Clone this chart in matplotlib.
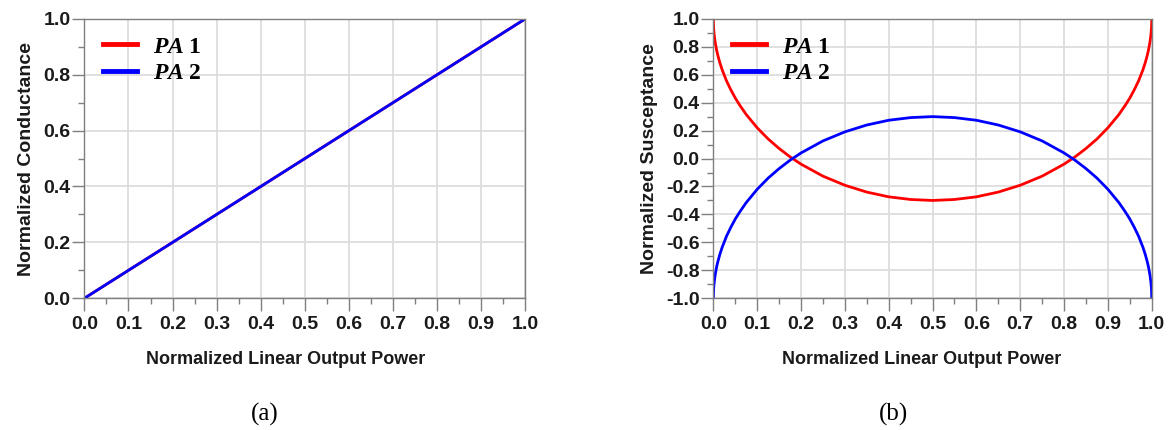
import numpy as np
import matplotlib
matplotlib.use("Agg")
import matplotlib.pyplot as plt
from matplotlib.ticker import MultipleLocator, FormatStrFormatter

# panel (a): conductance vs linear output power
g_power = [0.0, 1.0]
g_pa1 = [0.0, 1.0]
g_pa2 = [0.0, 1.0]

# panel (b): susceptance vs linear output power
b_power = [0.0, 0.0005, 0.001, 0.002, 0.004, 0.007, 0.01, 0.015, 0.02, 0.03, 0.04, 0.05,
           0.06, 0.075, 0.1, 0.125, 0.15, 0.175, 0.2, 0.25, 0.3, 0.35, 0.4, 0.45, 0.5,
           0.55, 0.6, 0.65, 0.7, 0.75, 0.8, 0.825, 0.85, 0.875, 0.9, 0.925, 0.94, 0.95,
           0.96, 0.97, 0.98, 0.985, 0.99, 0.993, 0.996, 0.998, 0.999, 0.9995, 1.0]
b_pa1 = [1.0, 0.942, 0.918, 0.884, 0.836, 0.783, 0.741, 0.684, 0.636, 0.556, 0.491, 0.433,
         0.383, 0.315, 0.22, 0.14, 0.072, 0.012, -0.04, -0.126, -0.191, -0.24, -0.274, -0.293, -0.3,
         -0.293, -0.274, -0.24, -0.191, -0.126, -0.04, 0.012, 0.072, 0.14, 0.22, 0.315, 0.383, 0.433,
         0.491, 0.556, 0.636, 0.684, 0.741, 0.783, 0.836, 0.884, 0.918, 0.942, 1.0]
b_pa2 = [-1.0, -0.942, -0.918, -0.884, -0.836, -0.783, -0.741, -0.684, -0.636, -0.556, -0.491, -0.433,
         -0.383, -0.315, -0.22, -0.14, -0.072, -0.012, 0.04, 0.126, 0.191, 0.24, 0.274, 0.293, 0.3,
         0.293, 0.274, 0.24, 0.191, 0.126, 0.04, -0.012, -0.072, -0.14, -0.22, -0.315, -0.383, -0.433,
         -0.491, -0.556, -0.636, -0.684, -0.741, -0.783, -0.836, -0.884, -0.918, -0.942, -1.0]

series_labels = [r'$\mathbfit{PA}\ \mathbf{1}$', r'$\mathbfit{PA}\ \mathbf{2}$']

plt.rcParams['font.family'] = ['Liberation Sans', 'DejaVu Sans']
plt.rcParams['mathtext.fontset'] = 'custom'
plt.rcParams['mathtext.rm'] = 'Liberation Serif'
plt.rcParams['mathtext.it'] = 'Liberation Serif:italic'
plt.rcParams['mathtext.bf'] = 'Liberation Serif:bold'
plt.rcParams['mathtext.bfit'] = 'Liberation Serif:bold:italic'

spine_col = '#7f7f7f'
grid_col = '#dadada'
text_col = '#1a1a1a'

fig = plt.figure(figsize=(11.7, 4.3), dpi=100)
ax1 = fig.add_axes([0.0721, 0.3063, 0.3769, 0.650])
ax2 = fig.add_axes([0.6097, 0.3063, 0.3747, 0.650])


def style_axis(ax, ylabel, xlabel_x):
    for s in ax.spines.values():
        s.set_color(spine_col)
        s.set_linewidth(1.0)
    ax.set_xlim(0, 1)
    ax.xaxis.set_major_locator(MultipleLocator(0.1))
    ax.xaxis.set_minor_locator(MultipleLocator(0.05))
    ax.yaxis.set_major_locator(MultipleLocator(0.2))
    ax.yaxis.set_minor_locator(MultipleLocator(0.1))
    ax.xaxis.set_major_formatter(FormatStrFormatter('%.1f'))
    ax.yaxis.set_major_formatter(FormatStrFormatter('%.1f'))
    ax.tick_params(which='both', direction='out', color=spine_col, labelsize=14,
                   labelcolor=text_col, top=False, right=False, width=1)
    ax.tick_params(which='major', length=9, pad=1)
    ax.tick_params(which='minor', length=4.5)
    ax.tick_params(axis='x', which='major', pad=4)
    for lab in ax.get_xticklabels() + ax.get_yticklabels():
        lab.set_fontweight('bold')
    ax.grid(which='major', color=grid_col, linewidth=1.2)
    ax.set_axisbelow(True)
    ax.set_xlabel('Normalized Linear Output Power', fontsize=13, fontweight='bold',
                  color=text_col)
    ax.xaxis.set_label_coords(xlabel_x, -0.187)
    ax.set_ylabel(ylabel, fontsize=14, fontweight='bold', color=text_col, labelpad=6)


# (a)
ax1.plot(g_power, g_pa1, color='red', linewidth=2, label=series_labels[0])
ax1.plot(g_power, g_pa2, color='blue', linewidth=2, label=series_labels[1])
ax1.set_ylim(0, 1)
style_axis(ax1, 'Normalized Conductance', 0.457)

# (b)
ax2.plot(b_power, b_pa1, color='red', linewidth=2, label=series_labels[0])
ax2.plot(b_power, b_pa2, color='blue', linewidth=2, label=series_labels[1])
ax2.set_ylim(-1, 1)
style_axis(ax2, 'Normalized Susceptance', 0.476)

for ax in (ax1, ax2):
    ax.legend(loc='upper left', bbox_to_anchor=(0.0, 1.007), frameon=False,
              fontsize=17, handlelength=1.45, handletextpad=0.65, labelspacing=0.2,
              borderaxespad=0.4)
    for h in ax.get_legend().get_lines():
        h.set_linewidth(3.5)

fig.text(265 / 1170, 1 - 414 / 430, '(a)', fontsize=18, family='Liberation Serif',
         ha='center', va='center')
fig.text(893 / 1170, 1 - 414 / 430, '(b)', fontsize=18, family='Liberation Serif',
         ha='center', va='center')

fig.savefig('out.png', dpi=100)
